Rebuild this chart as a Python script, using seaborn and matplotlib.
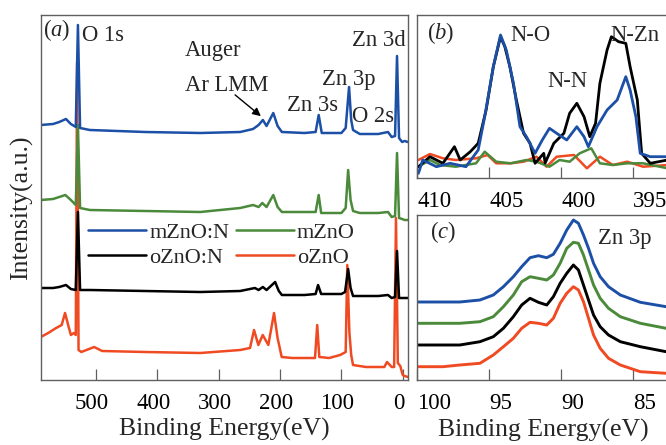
import matplotlib
matplotlib.use("Agg")
import matplotlib.pyplot as plt
import seaborn as sns
import pandas as pd
from matplotlib.transforms import ScaledTranslation

# ---------------- data ----------------
# Panel (a): XPS survey, binding energy (eV) vs intensity (a.u., stacked)
a_blue_eV = [590, 570, 560, 549, 541, 533, 529.5, 526, 510, 420, 330, 265, 244, 235, 228, 222, 211, 204, 197, 160,
             142, 137, 132, 100, 93, 87.5, 84, 81, 70, 40, 24, 18, 12.5, 9.3, 6, 1, -3, -8.6]
a_blue_I = [255, 256, 258, 261, 256, 253, 355, 252, 250, 248, 247, 248, 251, 255, 260, 254, 267, 254, 248, 247,
            248, 265, 247, 247, 252, 293, 260, 250, 246, 246, 248, 243, 244, 324, 242, 238, 239, 238]

a_green_eV = [590, 570, 560, 550, 541, 533, 529.5, 526, 510, 420, 330, 265, 244, 235, 229, 222, 211, 204, 197, 160,
              142, 137, 133, 100, 93, 89, 85, 81, 70, 40, 24, 18, 12.5, 9.3, 6, 1, -3, -8.6]
a_green_I = [180, 181, 183, 185, 180, 175, 255, 172, 170, 169, 168, 172, 175, 173, 177, 173, 185, 173, 168, 168,
             168, 185, 167, 167, 172, 210, 180, 169, 167, 167, 168, 163, 164, 227, 162, 161, 160, 160]

a_black_eV = [590, 570, 560, 549, 541, 533, 529.5, 526, 510, 420, 330, 265, 241, 235, 228, 222, 208, 202, 197, 160,
              142, 138, 133, 100, 94, 89, 85, 81, 70, 40, 24, 18, 12.5, 9.3, 6, 1, -3, -8.6]
a_black_I = [92, 92, 93, 95, 91, 90, 168, 90, 90, 89, 88, 89, 92, 90, 93, 90, 98, 89, 85, 85,
             86, 95, 86, 86, 88, 111, 92, 84, 84, 84, 85, 82, 83, 129, 82, 82, 82, 82]

a_red_eV = [590, 578, 565, 556, 550.5, 545, 541, 536, 533, 530.8, 528.5, 524, 503, 490, 420, 330, 265, 249, 242.4, 235.4,
            228.2, 219.1, 209.8, 204, 197.3, 180, 150, 143, 139.4, 136, 120, 102, 93, 90.4, 87, 84, 81, 60, 30, 25.6,
            18, 14, 11, 8, 4, 0, -3, -8.6]
a_red_I = [43, 47, 52, 55, 67, 54, 45, 47, 45, 318, 30, 28, 33, 29, 28, 27, 30, 32, 50, 35,
           45, 35, 67, 42, 23, 22, 22, 22, 55, 23, 22, 25, 28, 115, 48, 25, 15, 13, 13, 18,
           13, 13, 162, 17, 14, 5, 4, 3]

# Panel (b): N 1s
b_black_eV = [409.9, 409.1, 408.2, 407.4, 407.0, 406.3, 405.75, 405.2, 404.7, 404.2, 403.9, 403.55, 403.1, 402.6,
              402.15, 401.8, 401.2, 401.1, 400.5, 399.8, 399.4, 398.9, 398.4, 398.0, 397.6, 397.3, 396.8, 396.5,
              396.0, 395.5, 395.2, 394.7, 394.4, 393.8, 392.6]
b_black_I = [11.3, 21.3, 14.7, 31.3, 18, 26.3, 34.7, 68, 111.3, 141.3, 131.3, 111.3, 78, 44.7,
             34.7, 14.7, 24.7, 15, 34.7, 44.7, 64.7, 74.7, 61.3, 41.3, 54.7, 94.7, 128, 141.3,
             136.3, 134.7, 111.3, 78, 24.7, 14.7, 18]
b_blue_eV = [409.9, 409.6, 408.65, 407.7, 406.6, 405.75, 405.3, 404.7, 404.2, 403.8, 403.3, 402.85, 402.4, 401.8,
             401.3, 400.8, 400.3, 399.6, 398.9, 398.4, 398.1, 397.5, 396.8, 396.1, 395.5, 395.2, 394.8, 394.5,
             393.8, 392.6]
b_blue_I = [4.7, 18, 11.3, 14.7, 11.3, 28, 61.3, 111.3, 143, 128, 94.7, 51.3, 41.3, 24.7,
            38, 49.7, 44.7, 38, 51.3, 41.3, 31.3, 51.3, 68, 78, 101.3, 88, 61.3, 24.7,
            21.3, 21.3]
b_red_eV = [409.9, 409.1, 408.2, 407.3, 405.9, 405.1, 404.5, 403.5, 402.6, 401.7, 401.0, 400.3, 399.1, 398.2,
            397.3, 396.4, 395.4, 394.3, 392.6]
b_red_I = [18, 24, 19.7, 18, 19.7, 23, 14.7, 14.7, 16.3, 21.3, 11.3, 21.3, 23, 9.7,
           21.3, 13, 16.3, 11.3, 13]
b_green_eV = [409.9, 409.1, 408.4, 407.3, 405.9, 405.3, 404.5, 403.5, 402.4, 401.7, 400.8, 400.1, 399.4, 398.7,
              397.9, 397.3, 396.4, 395.4, 394.3, 392.6]
b_green_I = [11.3, 18, 13, 11.3, 14.7, 26.3, 16.3, 14.7, 18, 16.3, 11.3, 18, 16.3, 24.7,
             29.7, 14.7, 13, 14.7, 14.7, 9.7]

# Panel (c): Zn 3p
c_eV = [99.93, 98.2, 97.03, 95.63, 94.7, 94.0, 93.31, 92.73, 92.15, 91.57, 90.99, 90.53, 90.06, 89.6, 89.14,
        88.79, 88.44, 88.09, 87.74, 87.28, 86.7, 85.88, 84.49, 82.7]
c_blue_I = [78, 78, 78, 80, 85, 93.3, 103.3, 113.3, 122.3, 124.3, 122.3, 125.7, 136.7, 150, 160,
            156.7, 145, 131.7, 116.7, 103.3, 93.3, 85, 77.7, 73.3]
c_green_I = [56.7, 56.7, 56.7, 58.3, 63.3, 73.3, 85, 98.3, 103.3, 101.7, 100, 105, 116.7, 131.7, 137.7,
             136.7, 125, 110, 95, 81.7, 71.7, 63.3, 56.7, 51.7]
c_black_I = [35, 35, 35, 38.3, 43.3, 51.7, 63.3, 75, 81.7, 77.7, 75, 83.3, 96.7, 106.7, 115,
             110, 95, 80, 65, 53.3, 45, 38.3, 33.3, 28.3]
c_red_I = [13.3, 13.3, 15, 16.7, 25, 33.3, 41.7, 51.7, 57.7, 56.7, 55, 61.7, 76.7, 86.7, 93.3,
           90, 78.3, 61.7, 45, 31.7, 21.7, 15, 8.3, 6.7]

labels = ["mZnO:N", "mZnO", "oZnO:N", "oZnO"]
colors = {"mZnO:N": "#1c4fa6", "mZnO": "#4a8a3a", "oZnO:N": "#000000", "oZnO": "#f04a22"}

a_ticks = [500, 400, 300, 200, 100, 0]
b_ticks = [410, 405, 400, 395]
c_ticks = [100, 95, 90, 85]

# ---------------- style ----------------
sns.set_theme(style="white")
plt.rcParams['font.family'] = ['Liberation Serif', 'DejaVu Serif']
plt.rcParams['mathtext.fontset'] = 'custom'
plt.rcParams['mathtext.rm'] = 'Liberation Serif'
plt.rcParams['mathtext.it'] = 'Liberation Serif:italic'

W, H = 666, 445
fig = plt.figure(figsize=(W / 100, H / 100), dpi=100)


def rect(x0, y0, x1, y1):
    return [x0 / W, 1 - y1 / H, (x1 - x0) / W, (y1 - y0) / H]


axA = fig.add_axes(rect(41, 15, 408, 380))
axB = fig.add_axes(rect(417, 15, 669, 178))
axC = fig.add_axes(rect(417, 215, 669, 380))

SPINE = "#606060"


def draw(ax, x, y, name, lw=1.8):
    df = pd.DataFrame({"eV": x, "I": y})
    sns.lineplot(data=df, x="eV", y="I", ax=ax, color=colors[name], lw=lw,
                 sort=False, estimator=None, label=name, legend=False)


# panel (a)
draw(axA, a_red_eV, a_red_I, "oZnO")
draw(axA, a_black_eV, a_black_I, "oZnO:N")
draw(axA, a_green_eV, a_green_I, "mZnO")
draw(axA, a_blue_eV, a_blue_I, "mZnO:N")
axA.set_xlim(589.7, -8.6)
axA.set_ylim(0, 365)

# panel (b)
draw(axB, b_red_eV, b_red_I, "oZnO")
draw(axB, b_green_eV, b_green_I, "mZnO")
draw(axB, b_black_eV, b_black_I, "oZnO:N", lw=2.0)
draw(axB, b_blue_eV, b_blue_I, "mZnO:N", lw=2.0)
axB.set_xlim(410, 392.5)
axB.set_ylim(0, 163)

# panel (c)
draw(axC, c_eV, c_red_I, "oZnO", lw=2.1)
draw(axC, c_eV, c_black_I, "oZnO:N", lw=2.1)
draw(axC, c_eV, c_green_I, "mZnO", lw=2.1)
draw(axC, c_eV, c_blue_I, "mZnO:N", lw=2.1)
axC.set_xlim(100, 82.5)
axC.set_ylim(0, 165)

for ax in (axA, axB, axC):
    ax.set_yticks([])
    ax.set_ylabel("")
    ax.set_xlabel("")
    for s in ax.spines.values():
        s.set_color(SPINE)
        s.set_linewidth(1.0)
    ax.tick_params(axis="x", direction="in", length=8, width=0.9, color=SPINE,
                   labelsize=16.5, pad=9.5, bottom=True, top=False, labelcolor="black")

axA.set_xticks(a_ticks)
axA.set_xticklabels([str(t) for t in a_ticks])
off = ScaledTranslation(-0.04, 0, fig.dpi_scale_trans)
for lbl in axA.get_xticklabels():
    lbl.set_transform(lbl.get_transform() + off)

axB.set_xticks(b_ticks)
axB.set_xticklabels([str(t) for t in b_ticks], ha="left")
axC.set_xticks(c_ticks)
axC.set_xticklabels([str(t) for t in c_ticks], ha="left")

axA.set_xlabel("Binding Energy(eV)", fontsize=18.5, labelpad=3)
axC.set_xlabel("Binding Energy(eV)", fontsize=18.5, labelpad=3.5)
axA.set_ylabel("Intensity(a.u.)", fontsize=18.5)
axA.yaxis.set_label_coords(-0.022, 0.471)

# legend
hmap = {l.get_label(): l for l in axA.get_lines()}
order = ["mZnO:N", "oZnO:N", "mZnO", "oZnO"]
axA.legend([hmap[k] for k in order], order, ncol=2, loc="upper left",
           bbox_to_anchor=(0.128, 0.433), frameon=False, fontsize=16,
           handlelength=2.6, handletextpad=0.15, columnspacing=0.3,
           labelspacing=0.2, borderpad=0, borderaxespad=0)

# annotations
FS = 16.3
tA = dict(transform=axA.transAxes, fontsize=FS, va="center", ha="left")
axA.text(0.005, 0.959, "($a$)", **tA)
axA.text(0.112, 0.945, "O 1s", **tA)
axA.text(0.392, 0.904, "Auger", **tA)
axA.text(0.392, 0.808, "Ar LMM", **tA)
axA.text(0.670, 0.751, "Zn 3s", **tA)
axA.text(0.766, 0.822, "Zn 3p", **tA)
axA.text(0.847, 0.723, "O 2s", **tA)
axA.text(0.847, 0.929, "Zn 3d", **tA)
axA.annotate("", xy=(0.605, 0.718), xytext=(0.523, 0.786),
             xycoords="axes fraction", textcoords="axes fraction",
             arrowprops=dict(arrowstyle="-|>", color="black", lw=1.0, mutation_scale=12))

tB = dict(transform=axB.transAxes, fontsize=FS, va="center", ha="left")
axB.text(0.040, 0.890, "($b$)", **tB)
axB.text(0.371, 0.877, "N-O", **tB)
axB.text(0.518, 0.589, "N-N", **tB)
axB.text(0.769, 0.877, "N-Zn", **tB)

tC = dict(transform=axC.transAxes, fontsize=FS, va="center", ha="left")
axC.text(0.052, 0.897, "($c$)", **tC)
axC.text(0.717, 0.855, "Zn 3p", **tC)

fig.savefig("out.png", dpi=100)
